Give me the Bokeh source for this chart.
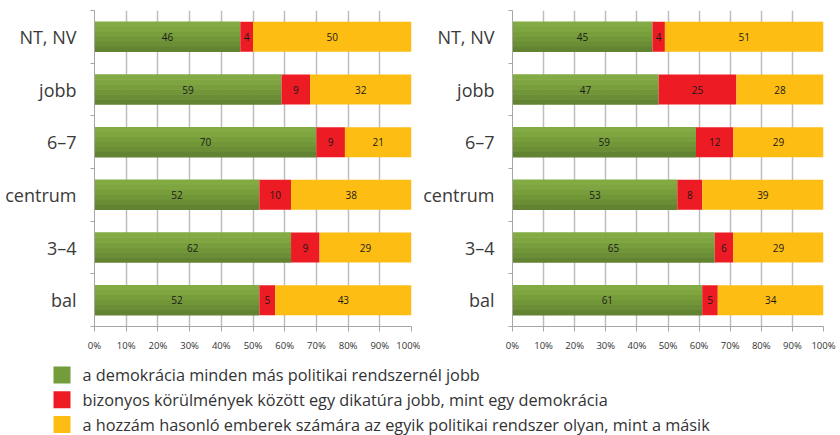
from bokeh.plotting import figure
from bokeh.layouts import column, row
from bokeh.models import Range1d, FixedTicker
from bokeh.core.properties import value
from bokeh.embed import file_html
from bokeh.resources import INLINE

# ---- data (top to bottom as displayed) ----
categories = ["NT, NV", "jobb", "6–7", "centrum", "3–4", "bal"]
left_demo = [46, 59, 70, 52, 62, 52]
left_dict = [4, 9, 9, 10, 9, 5]
left_same = [50, 32, 21, 38, 29, 43]
right_demo = [45, 47, 59, 53, 65, 61]
right_dict = [4, 25, 12, 8, 6, 5]
right_same = [51, 28, 29, 39, 29, 34]
x_ticks = [0, 10, 20, 30, 40, 50, 60, 70, 80, 90, 100]
legend_labels = [
    "a demokrácia minden más politikai rendszernél jobb",
    "bizonyos körülmények között egy dikatúra jobb, mint egy demokrácia",
    "a hozzám hasonló emberek számára az egyik politikai rendszer olyan, mint a másik",
]

GREEN = "#759c3b"
RED = "#ed1c24"
YELLOW = "#fdbd13"
GREEN_SHADES = ["#83ab44", "#7ea540", "#789e3c", "#719638", "#6a8d35", "#628331"]
FONT = "Open Sans"
BAR_H = 0.57


def make_panel(demo, dic, same, width, border_left, border_right):
    n = len(categories)
    ys = [n - 1 - i for i in range(n)]
    p = figure(width=width, height=355, output_backend="svg", toolbar_location=None,
               x_range=Range1d(0, 100), y_range=Range1d(-0.5, n - 0.5),
               min_border_left=border_left, min_border_right=border_right,
               min_border_top=10, min_border_bottom=29)
    p.outline_line_color = None
    p.background_fill_color = "white"
    p.border_fill_color = "white"

    g_end = list(demo)
    r_end = [a + b for a, b in zip(demo, dic)]
    y_end = [a + b + c for a, b, c in zip(demo, dic, same)]

    # green bars with vertical gradient (strips)
    ns = len(GREEN_SHADES)
    for k, col in enumerate(GREEN_SHADES):
        off = BAR_H / 2 - (k + 0.5) * BAR_H / ns
        p.hbar(y=[y + off for y in ys], left=0, right=g_end, height=BAR_H / ns * 1.08,
               fill_color=col, line_color=None)
    p.hbar(y=ys, left=g_end, right=r_end, height=BAR_H, fill_color=RED, line_color=None)
    p.hbar(y=ys, left=r_end, right=y_end, height=BAR_H, fill_color=YELLOW, line_color=None)

    # value labels
    lx = [d / 2 for d in demo] + [a + b / 2 for a, b in zip(demo, dic)] + \
         [a + b + c / 2 for a, b, c in zip(demo, dic, same)]
    ly = ys * 3
    lt = [str(v) for v in list(demo) + list(dic) + list(same)]
    p.text(x=lx, y=ly, text=lt, text_align="center", text_baseline="middle",
           text_font=value(FONT), text_font_size="10px", text_color="#1a1a1a")

    # x axis
    p.xaxis.ticker = FixedTicker(ticks=x_ticks, minor_ticks=[])
    p.xaxis.major_label_overrides = {t: f"{t}%" for t in x_ticks}
    p.xaxis.major_label_text_font = FONT
    p.xaxis.major_label_text_font_size = "9.5px"
    p.xaxis.major_label_text_color = "#333333"
    p.xaxis.major_label_standoff = 7
    p.xaxis.axis_line_color = "#a6a6a6"
    p.xaxis.major_tick_line_color = "#a6a6a6"
    p.xaxis.major_tick_in = 0
    p.xaxis.major_tick_out = 5
    p.xaxis.minor_tick_line_color = None
    p.xgrid.ticker = FixedTicker(ticks=x_ticks)
    p.xgrid.grid_line_color = "#bdbdbd"
    p.xgrid.grid_line_width = 1.5
    p.ygrid.grid_line_color = None

    # y axis
    p.yaxis.ticker = FixedTicker(ticks=ys, minor_ticks=[k - 0.5 for k in range(n + 1)])
    p.yaxis.major_label_overrides = {y: c for y, c in zip(ys, categories)}
    p.yaxis.major_label_text_font = FONT
    p.yaxis.major_label_text_font_size = "18px"
    p.yaxis.major_label_text_color = "#3a3a3a"
    p.yaxis.major_label_standoff = 12
    p.yaxis.major_tick_line_color = None
    p.yaxis.minor_tick_line_color = "#a6a6a6"
    p.yaxis.minor_tick_in = 0
    p.yaxis.minor_tick_out = 4
    p.yaxis.axis_line_color = "#a6a6a6"
    return p


p1 = make_panel(left_demo, left_dict, left_same, 420, 94, 9)
p2 = make_panel(right_demo, right_dict, right_same, 418, 87, 15)

# legend panel
leg = figure(width=838, height=80, output_backend="svg", toolbar_location=None,
             x_range=Range1d(0, 838), y_range=Range1d(80, 0),
             min_border=0)
leg.axis.visible = False
leg.grid.visible = False
leg.outline_line_color = None
ly = [19.5 + 24.8 * i for i in range(len(legend_labels))]
leg.rect(x=[61.5] * 3, y=ly, width=17, height=17, width_units="screen", height_units="screen",
         fill_color=[GREEN, RED, YELLOW], line_color=None)
leg.text(x=[82] * 3, y=ly, text=legend_labels, text_baseline="middle", text_align="left",
         text_font=value(FONT), text_font_size="16.3px", text_color="#333333")

layout = column(row(p1, p2, spacing=0), leg, spacing=0)
open("out.html", "w").write(file_html(layout, INLINE))
